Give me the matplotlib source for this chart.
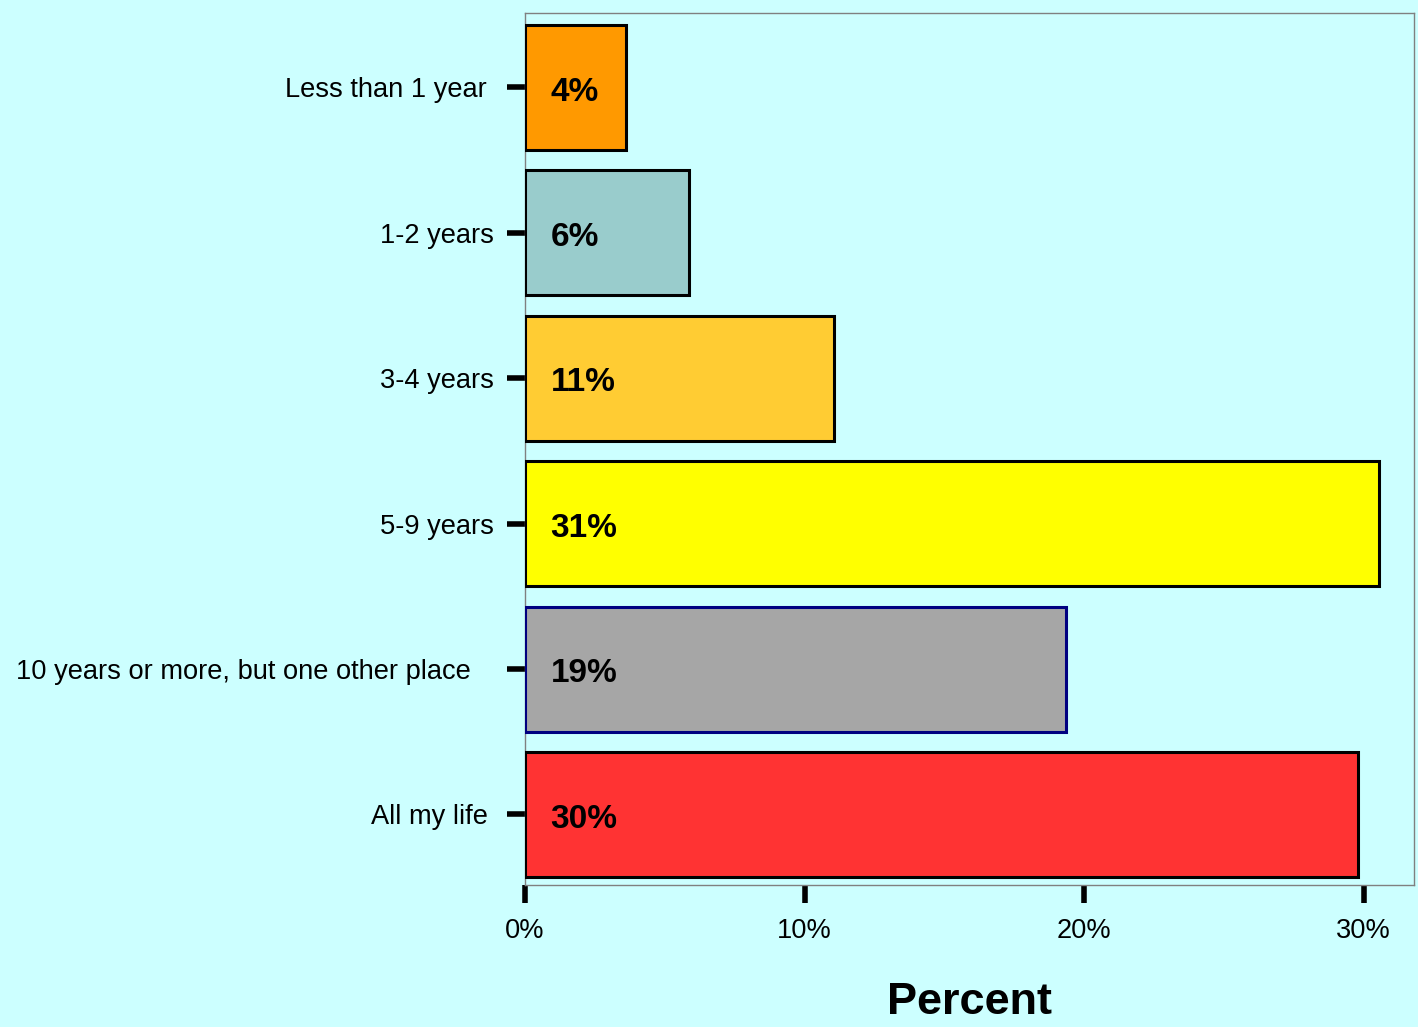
import matplotlib
matplotlib.use('Agg')
import matplotlib.pyplot as plt
import matplotlib.transforms as mtransforms
from matplotlib.ticker import FuncFormatter

# Data
categories = ['Less than 1 year', '1-2 years', '3-4 years', '5-9 years',
              '10 years or more, but one other place', 'All my life']
values = [3.6, 5.85, 11.05, 30.55, 19.35, 29.8]
value_labels = ['4%', '6%', '11%', '31%', '19%', '30%']
bar_colors = ['#FF9900', '#99CCCC', '#FFCC33', '#FFFF00', '#A6A6A6', '#FF3333']
edge_colors = ['black', 'black', 'black', 'black', '#000080', 'black']
x_ticks = [0, 10, 20, 30]

plt.rcParams['font.family'] = ['Liberation Sans', 'DejaVu Sans']

bg = '#CCFFFF'
fig = plt.figure(figsize=(14.18, 10.27), dpi=100, facecolor=bg)
ax = fig.add_axes([0.3702, 0.1383, 0.9972 - 0.3702, 0.98734 - 0.1383])
ax.set_facecolor(bg)

ypos = list(range(len(categories)))
ax.barh(ypos, values, height=0.86, color=bar_colors, edgecolor=edge_colors,
        linewidth=2.2, zorder=3)

# value labels inside bars
for y, lab in zip(ypos, value_labels):
    ax.annotate(lab, xy=(0, y), xytext=(18.5, -9.5), textcoords='offset points',
                ha='left', va='baseline', fontsize=24, fontweight='bold', zorder=4)

ax.set_xlim(0, 31.8)
ax.set_ylim(5.485, -0.512)

ax.set_yticks(ypos)
ax.set_yticklabels(categories, fontsize=19.6)
ax.set_xticks(x_ticks)
ax.xaxis.set_major_formatter(FuncFormatter(lambda v, p: '%d%%' % v))
ax.tick_params(axis='x', labelsize=19.6, length=13, width=4, pad=11, direction='out')
ax.tick_params(axis='y', length=13, width=4, pad=9.7, direction='out')

# nudge some y labels like in the original
offsets = [7, 0, 0, 0, 23, 6]
for lab, dx in zip(ax.get_yticklabels(), offsets):
    lab.set_transform(lab.get_transform() +
                      mtransforms.ScaledTranslation(-dx / 100., 0, fig.dpi_scale_trans))

for s in ax.spines.values():
    s.set_color('#808080')
    s.set_linewidth(1)

fig.text((0.3702 + 0.9972) / 2, 0.024, 'Percent', ha='center', va='center',
         fontsize=32.5, fontweight='bold')

fig.savefig('out.png', dpi=100, facecolor=bg)
